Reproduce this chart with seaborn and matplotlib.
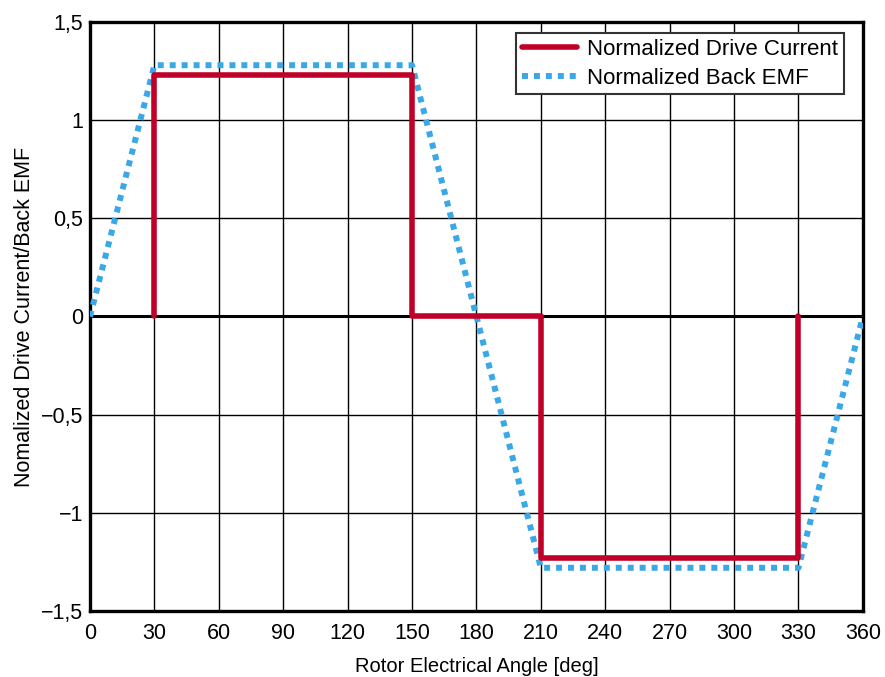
import numpy as np
import pandas as pd
import matplotlib
matplotlib.use("Agg")
import matplotlib.pyplot as plt
import matplotlib.ticker as mtick
import seaborn as sns

# data
current_angle = [30, 30, 150, 150, 210, 210, 330, 330]
current_value = [0, 1.23, 1.23, 0, 0, -1.23, -1.23, 0]
emf_angle = [0, 30, 150, 210, 330, 360]
emf_value = [0, 1.28, 1.28, -1.28, -1.28, 0]
x_ticks = list(range(0, 361, 30))
y_ticks = [-1.5, -1, -0.5, 0, 0.5, 1, 1.5]

sns.set_style("white")
plt.rcParams["font.family"] = ["Liberation Sans", "DejaVu Sans"]
plt.rcParams["text.color"] = "black"
plt.rcParams["axes.labelcolor"] = "black"
plt.rcParams["xtick.color"] = "black"
plt.rcParams["ytick.color"] = "black"

df_cur = pd.DataFrame({"angle": current_angle, "value": current_value})
df_emf = pd.DataFrame({"angle": emf_angle, "value": emf_value})

fig = plt.figure(figsize=(8.85, 6.77), dpi=100)
ax = fig.add_axes([0.1017, 0.0975, 0.8733, 0.87])

ax.axhline(0, color="black", lw=2.2, zorder=1)
sns.lineplot(data=df_emf, x="angle", y="value", ax=ax, color="#3AA8E8", lw=4.3,
             linestyle=(0, (1, 1)), sort=False, estimator=None,
             label="Normalized Back EMF", zorder=3)
sns.lineplot(data=df_cur, x="angle", y="value", ax=ax, color="#C00028", lw=4,
             sort=False, estimator=None, label="Normalized Drive Current", zorder=4)

ax.set_xlim(0, 360)
ax.set_ylim(-1.5, 1.5)
ax.set_xticks(x_ticks)
ax.set_yticks(y_ticks)
ax.grid(True, color="black", lw=1.0)
ax.tick_params(length=0, labelsize=15.5)
ax.tick_params(axis="x", pad=9)
ax.tick_params(axis="y", pad=5)
ax.yaxis.set_major_formatter(mtick.FuncFormatter(
    lambda v, p: ("{:g}".format(v)).replace(".", ",").replace("-", "\u2212")))
for s in ax.spines.values():
    s.set_linewidth(2.4)
    s.set_color("black")

ax.set_xlabel("Rotor Electrical Angle [deg]", fontsize=14.5, labelpad=9)
ax.set_ylabel("Nomalized Drive Current/Back EMF", fontsize=15.5, labelpad=4)

h, l = ax.get_legend_handles_labels()
leg = ax.legend(h[::-1], l[::-1], loc="upper right", bbox_to_anchor=(0.9755, 0.981),
                fontsize=16, frameon=True, fancybox=False, edgecolor="#333333",
                handlelength=2.5, handletextpad=0.45, borderpad=0.25,
                labelspacing=0.35, borderaxespad=0)
leg.get_frame().set_linewidth(1.5)
leg.get_frame().set_alpha(1)

fig.savefig("out.png", dpi=100)
